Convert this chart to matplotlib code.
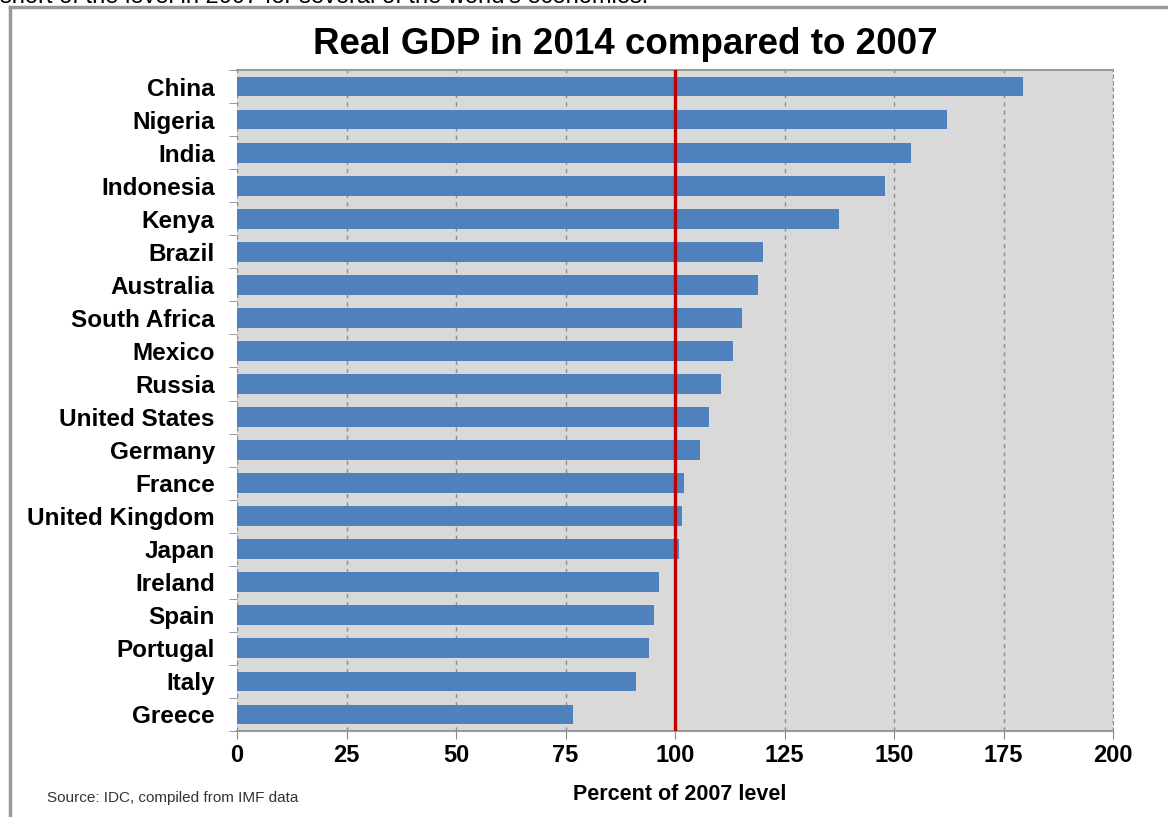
import matplotlib
matplotlib.use("Agg")
import matplotlib.pyplot as plt
from matplotlib.lines import Line2D
import numpy as np

plt.rcParams['font.family'] = ['Liberation Sans', 'DejaVu Sans']

# Data (percent of 2007 real GDP level)
countries = ["China", "Nigeria", "India", "Indonesia", "Kenya", "Brazil",
             "Australia", "South Africa", "Mexico", "Russia", "United States",
             "Germany", "France", "United Kingdom", "Japan", "Ireland", "Spain",
             "Portugal", "Italy", "Greece"]
gdp_2014 = [179.5, 162.0, 153.9, 148.0, 137.4, 120.1, 119.0, 115.3, 113.2,
            110.5, 107.8, 105.7, 102.0, 101.6, 100.9, 96.4, 95.2, 94.0, 91.0, 76.7]
x_ticks = [0, 25, 50, 75, 100, 125, 150, 175, 200]
baseline = 100

BAR_COLOR = "#4F81BD"
BG_COLOR = "#D9D9D9"
RED = "#C00000"

fig = plt.figure(figsize=(11.68, 8.17), dpi=100)
W, H = 1168, 817
ax = fig.add_axes([237 / W, 1 - 731 / H, (1113 - 237) / W, (731 - 70) / H])
ax.set_facecolor(BG_COLOR)

y = np.arange(len(countries))
ax.barh(y, gdp_2014, height=0.6, color=BAR_COLOR, zorder=3)
ax.axvline(baseline, color=RED, lw=2.4, zorder=4)

ax.set_xlim(0, 200)
ax.set_ylim(len(countries) - 0.5, -0.5)
ax.set_xticks(x_ticks)
ax.set_xticklabels([str(t) for t in x_ticks], fontsize=17, fontweight='bold')
ax.set_yticks(y)
ax.set_yticklabels(countries, fontsize=17.5, fontweight='bold')
ax.tick_params(axis='y', length=0, pad=16)
ax.set_yticks(np.arange(len(countries) + 1) - 0.5, minor=True)
ax.tick_params(axis='y', which='minor', length=6, color='#888888')
ax.tick_params(axis='x', length=6, color='#888888', pad=3)

ax.grid(axis='x', color='#8C8C8C', linestyle=(0, (3, 3)), lw=1.0, zorder=1)
for s in ['top', 'bottom']:
    ax.spines[s].set_color('#999999')
    ax.spines[s].set_linewidth(1.5)
ax.spines['left'].set_visible(False)
ax.spines['right'].set_color('#8C8C8C')
ax.spines['right'].set_linestyle((0, (3, 3)))

fig.text(625 / W, 1 - 44 / H, "Real GDP in 2014 compared to 2007",
         ha='center', va='center', fontsize=26.5, fontweight='heavy')
fig.text(680 / W, 1 - 795 / H, "Percent of 2007 level",
         ha='center', va='center', fontsize=15.5, fontweight='bold')
fig.text(47 / W, 1 - 798 / H, "Source: IDC, compiled from IMF data",
         ha='left', va='center', fontsize=11, color='#333333')

# clipped caption line from the surrounding page
fig.text(0.0, 1 - (-3) / H, "short of the level in 2007 for several of the world's economies.",
         ha='left', va='center', fontsize=17)

# page frame
fig.add_artist(Line2D([10 / W, 1.0], [1 - 7 / H, 1 - 7 / H], transform=fig.transFigure,
                      color='#999999', lw=2.5))
fig.add_artist(Line2D([10 / W, 10 / W], [1 - 7 / H, 0.0], transform=fig.transFigure,
                      color='#999999', lw=2.5))

fig.savefig("out.png", dpi=100, facecolor='white')
